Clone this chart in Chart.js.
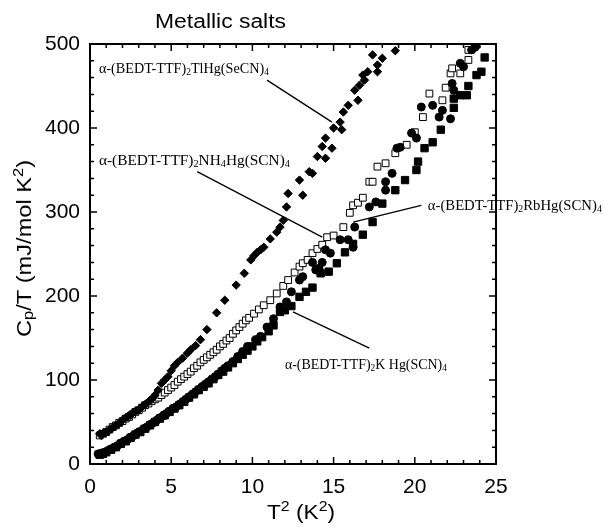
<!DOCTYPE html>
<html>
<head>
<meta charset="utf-8">
<script src="https://cdn.jsdelivr.net/npm/chart.js@4.4.0/dist/chart.umd.min.js"></script>
<style>
  body { margin: 0; background: #fff; }
  #wrap { width: 603px; height: 527px; }
</style>
</head>
<body>
<div id="wrap"><canvas id="grafico"></canvas></div>
<script>
// Datos: T^2 (K^2) y Cp/T (mJ/mol K^2)
const tlX = [0.6,0.7,0.8,0.9,1.0,1.15,1.3,1.45,1.6,1.75,1.9,2.05,2.2,2.35,2.5,2.65,2.8,2.95,3.1,3.25,3.4,3.55,3.7,3.85,4.0,4.2,4.4,4.6,4.8,5.0,5.2,5.4,5.7,6.0,6.2,6.5,6.8,7.2,7.8,8.3,9.0,9.5,9.9,10.1,10.3,10.5,10.7,11.1,11.5,11.7,11.9,12.1,12.2,12.9,13.1,13.5,13.7,14.0,14.3,14.5,14.5,14.9,15.0,15.4,15.5,15.6,15.9,16.3,16.5,16.6,16.8,16.9,17.1,17.4,17.7,17.7,18.0,18.8];
const tlY = [36,34,36,37,38,40,42,44,46,48,50,53,55,57,58,61,63,64,66,69,71,73,76,78,82,88,96,100,104,111,117,121,126,132,136,141,148,160,180,195,213,227,243,248,252,255,258,268,276,282,290,306,322,338,320,348,346,366,378,388,364,376,400,407,398,419,427,445,433,451,463,457,467,487,467,475,483,492];

const nhX = [0.6,0.8,1.0,1.2,1.4,1.6,1.8,2.0,2.2,2.4,2.6,2.8,3.0,3.2,3.4,3.6,3.8,4.0,4.2,4.4,4.6,4.8,5.0,5.2,5.4,5.6,5.8,6.0,6.2,6.4,6.6,6.8,7.0,7.2,7.4,7.6,7.8,8.0,8.2,8.4,8.6,8.8,9.0,9.2,9.4,9.6,9.8,10.1,10.4,10.7,11.1,11.5,11.9,12.2,12.6,12.9,13.1,13.4,13.7,14.0,14.3,14.6,15.0,15.6,16.0,16.2,16.5,16.8,17.2,17.4,17.7,18.2,18.8,19.5,20.0,20.5,20.9,21.7,21.9,22.2,22.3,22.8,23.3,23.3,23.8];
const nhY = [34,36,38,41,44,46,49,51,54,56,59,62,64,67,70,72,75,77,79,82,85,88,91,94,98,101,104,107,110,114,117,121,124,127,130,133,136,140,143,147,150,155,159,163,167,171,174,179,184,189,195,203,212,219,228,235,239,243,251,256,261,270,272,282,299,308,311,317,336,336,354,358,370,380,395,413,441,433,448,465,471,465,481,493,499];

const rbX = [0.5,0.7,0.9,1.1,1.3,1.5,1.7,1.9,2.1,2.3,2.5,2.7,2.9,3.1,3.3,3.5,3.7,3.9,4.1,4.3,4.5,4.7,4.9,5.1,5.3,5.5,5.7,5.9,6.1,6.3,6.5,6.7,6.9,7.1,7.3,7.5,7.7,7.9,8.1,8.3,8.5,8.8,9.1,9.4,9.7,10.2,10.5,10.9,11.3,11.7,12.1,12.4,12.9,13.1,13.7,13.9,14.1,14.3,14.5,14.8,15.4,15.9,16.2,16.3,17.2,17.6,18.2,18.2,18.6,18.9,19.1,19.8,20.1,20.4,21.1,21.5,21.7,22.2,22.3,22.4,22.8,23.0,23.5,23.7];
const rbY = [12,13,14,16,18,20,22,25,27,29,32,34,37,39,42,44,47,49,52,55,57,60,63,66,68,71,74,77,80,83,86,89,92,95,98,101,104,107,111,114,117,122,128,134,140,148,152,163,173,187,193,205,219,223,240,231,233,240,255,251,267,267,258,282,306,312,326,336,346,376,377,394,388,425,427,413,421,411,453,445,477,473,493,496];

const kX = [0.6,0.8,1.0,1.3,1.6,1.9,2.2,2.5,2.8,3.1,3.4,3.7,4.0,4.3,4.6,4.9,5.2,5.5,5.8,6.1,6.4,6.7,7.0,7.3,7.6,7.9,8.2,8.5,8.8,9.1,9.4,9.7,10.0,10.3,10.6,11.0,11.3,11.7,12.0,12.4,12.9,13.3,13.7,14.2,14.7,15.2,15.7,16.2,16.8,17.4,18.0,18.8,19.4,20.1,20.2,20.6,21.1,21.6,22.4,22.4,22.8,23.2,23.3,23.8,24.1,24.3];
const kY = [11,12,14,17,20,24,27,31,35,38,42,46,50,54,58,62,66,70,74,79,83,88,92,96,101,106,110,115,120,125,130,135,140,146,151,158,165,181,183,188,199,205,210,227,229,239,252,262,273,288,310,326,338,350,360,376,383,398,424,435,439,439,450,463,467,484];

// Marcas de los ejes
const xTicks = [0, 5, 10, 15, 20, 25];
const yTicks = [0, 100, 200, 300, 400, 500];

const SANS = 'Arial, "Liberation Sans", sans-serif';
const SERIF = '"Times New Roman", "Liberation Serif", serif';

// Etiquetas de cada sal (posiciones en unidades de los datos)
const notas = [
  { partes: [['α-(BEDT-TTF)', ''], ['2', 'sub'], ['TlHg(SeCN)', ''], ['4', 'sub']], en: [0.55, 465.5], ancho: 170, linea: [[10.9, 457], [14.9, 407]] },
  { partes: [['α-(BEDT-TTF)', ''], ['2', 'sub'], ['NH', ''], ['4', 'sub'], ['Hg(SCN)', ''], ['4', 'sub']], en: [0.55, 356], ancho: 191, linea: [[6.6, 348], [14.3, 270]] },
  { partes: [['α-(BEDT-TTF)', ''], ['2', 'sub'], ['RbHg(SCN)', ''], ['4', 'sub']], en: [20.8, 302], ancho: 174, linea: [[16.2, 288], [20.4, 308]] },
  { partes: [['α-(BEDT-TTF)', ''], ['2', 'sub'], ['K Hg(SCN)', ''], ['4', 'sub']], en: [12.0, 113], ancho: 162, linea: [[12.5, 181], [17.2, 138]] }
];

const puntos = (xs, ys) => xs.map((x, i) => ({ x: x, y: ys[i] }));

function textoRico(ctx, partes, x, y, size, family, ancho, align) {
  const fuente = k => (k ? Math.round(size * 0.68) : size) + 'px ' + family;
  let natural = 0;
  partes.forEach(([t, k]) => { ctx.font = fuente(k); natural += ctx.measureText(t).width; });
  const sx = ancho ? ancho / natural : 1;
  ctx.save();
  ctx.translate(x, y);
  ctx.scale(sx, 1);
  ctx.textAlign = 'left';
  ctx.textBaseline = 'alphabetic';
  ctx.fillStyle = '#000';
  let cx = align === 'center' ? -natural / 2 : 0;
  partes.forEach(([t, k]) => {
    ctx.font = fuente(k);
    const dy = k === 'sub' ? size * 0.12 : (k === 'sup' ? -size * 0.42 : 0);
    ctx.fillText(t, cx, dy);
    cx += ctx.measureText(t).width;
  });
  ctx.restore();
}

const decorado = {
  id: 'decorado',
  afterDraw(chart) {
    const ctx = chart.ctx;
    const a = chart.chartArea;
    const sx = chart.scales.x, sy = chart.scales.y;
    ctx.save();
    ctx.strokeStyle = '#000';
    // marcas hacia dentro en los cuatro lados
    ctx.lineWidth = 1.5;
    ctx.beginPath();
    for (let v = 0; v <= 25; v++) {
      const px = sx.getPixelForValue(v);
      const len = v % 5 === 0 ? 7 : 4;
      ctx.moveTo(px, a.bottom); ctx.lineTo(px, a.bottom - len);
      ctx.moveTo(px, a.top); ctx.lineTo(px, a.top + len);
    }
    for (let v = 0; v <= 500; v += 20) {
      const py = sy.getPixelForValue(v);
      const len = v % 100 === 0 ? 7 : 4;
      ctx.moveTo(a.left, py); ctx.lineTo(a.left + len, py);
      ctx.moveTo(a.right, py); ctx.lineTo(a.right - len, py);
    }
    ctx.stroke();
    // marco
    ctx.lineWidth = 2;
    ctx.strokeRect(a.left, a.top, a.right - a.left, a.bottom - a.top);

    // lineas de las etiquetas
    ctx.lineWidth = 1.3;
    ctx.beginPath();
    notas.forEach(n => {
      ctx.moveTo(sx.getPixelForValue(n.linea[0][0]), sy.getPixelForValue(n.linea[0][1]));
      ctx.lineTo(sx.getPixelForValue(n.linea[1][0]), sy.getPixelForValue(n.linea[1][1]));
    });
    ctx.stroke();
    notas.forEach(n => {
      textoRico(ctx, n.partes, sx.getPixelForValue(n.en[0]), sy.getPixelForValue(n.en[1]), 15, SERIF, n.ancho, 'left');
    });

    // titulo y ejes
    textoRico(ctx, [['Metallic salts', '']], 155, 28, 20, SANS, 131, 'left');
    textoRico(ctx, [['T', ''], ['2', 'sup'], [' (K', ''], ['2', 'sup'], [')', '']], 301, 519, 20, SANS, 68, 'center');
    ctx.save();
    ctx.translate(31, 248.5);
    ctx.rotate(-Math.PI / 2);
    textoRico(ctx, [['C', ''], ['p', 'sub'], ['/T (mJ/mol K', ''], ['2', 'sup'], [')', '']], 0, 0, 20, SANS, 177, 'center');
    ctx.restore();
    ctx.restore();
  }
};

const estilo = (label, xs, ys, forma, radio, relleno) => ({
  label: label,
  data: puntos(xs, ys),
  pointStyle: forma,
  pointRadius: radio,
  pointBackgroundColor: relleno,
  pointBorderColor: '#000',
  pointBorderWidth: 1,
  showLine: false
});

const ctx = document.getElementById('grafico').getContext('2d');
const grafico = new Chart(ctx, {
  type: 'scatter',
  data: {
    datasets: [
      estilo('TlHg(SeCN)4', tlX, tlY, 'rectRot', 4.2, '#000'),
      estilo('RbHg(SCN)4', rbX, rbY, 'circle', 4, '#000'),
      estilo('NH4Hg(SCN)4', nhX, nhY, 'rect', 4.8, '#fff'),
      estilo('KHg(SCN)4', kX, kY, 'rect', 5.2, '#000')
    ]
  },
  options: {
    responsive: true,
    maintainAspectRatio: false,
    animation: false,
    layout: { padding: { left: 0, right: 107, top: 44, bottom: 0 } },
    plugins: { legend: { display: false }, tooltip: { enabled: false } },
    scales: {
      x: {
        type: 'linear', min: 0, max: 25,
        grid: { display: false, drawTicks: false },
        border: { display: false },
        ticks: { color: '#000', padding: 11, font: { family: SANS, size: 21 } },
        afterBuildTicks: s => { s.ticks = xTicks.map(v => ({ value: v })); },
        afterFit: s => { s.height = 63; }
      },
      y: {
        type: 'linear', min: 0, max: 500,
        grid: { display: false, drawTicks: false },
        border: { display: false },
        ticks: { color: '#000', padding: 10, font: { family: SANS, size: 21 } },
        afterBuildTicks: s => { s.ticks = yTicks.map(v => ({ value: v })); },
        afterFit: s => { s.width = 90; }
      }
    }
  },
  plugins: [decorado]
});
</script>
</body>
</html>
